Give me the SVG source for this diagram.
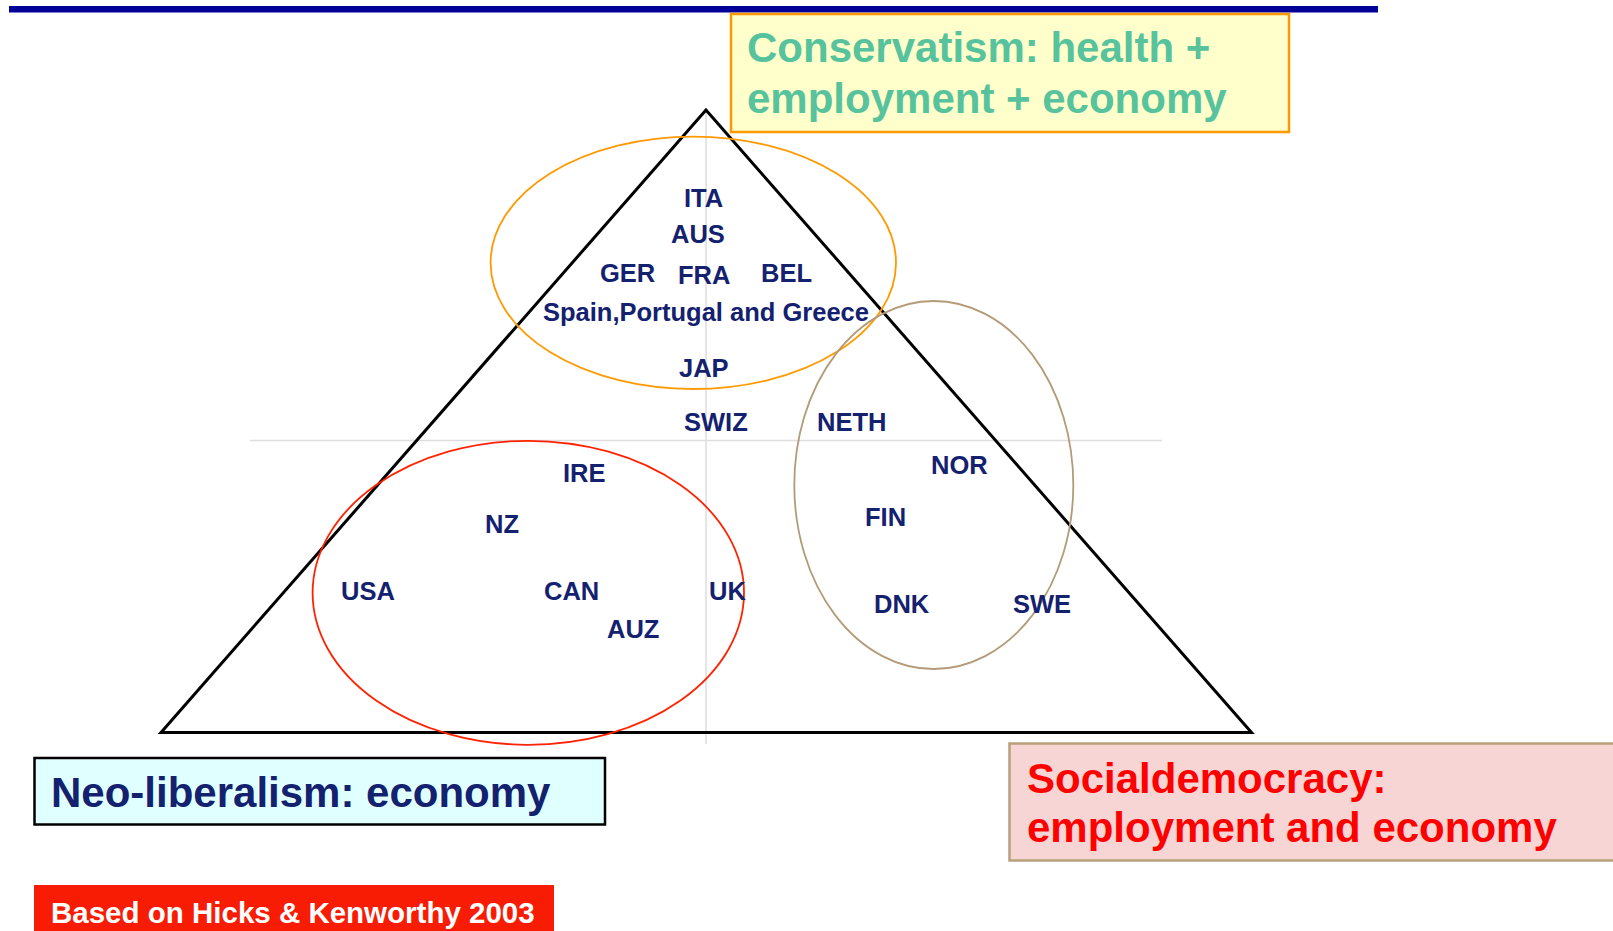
<svg xmlns="http://www.w3.org/2000/svg" width="1613" height="931" viewBox="0 0 1613 931">
<style>
.lbl{font-family:"Liberation Sans",Arial,sans-serif;font-weight:bold;font-size:25.5px;fill:#13216F}
.big{font-family:"Liberation Sans",Arial,sans-serif;font-weight:bold;font-size:42px}
.guide{stroke:#DDDDDD;stroke-width:1.5;fill:none}
</style>
<rect x="0" y="0" width="1613" height="931" fill="#FFFFFF"/>
<rect id="topbar" x="9" y="6" width="1369" height="6.5" fill="#000099"/>
<g id="guides">
<line class="guide" x1="250" y1="440.5" x2="1162" y2="440.5"/>
<line class="guide" x1="706" y1="110" x2="706" y2="744"/>
</g>
<g id="triangle">
<polygon points="706,110 161,732.5 1251.5,732.5" fill="none" stroke="#000000" stroke-width="3" stroke-linejoin="miter"/>
</g>
<g id="clusters">
<ellipse id="cons-ellipse" cx="693.3" cy="262.8" rx="202.7" ry="126.2" fill="none" stroke="#FF9900" stroke-width="1.8"/>
<ellipse id="neo-ellipse" cx="528.3" cy="592.8" rx="215.7" ry="152" fill="none" stroke="#FF2200" stroke-width="1.8"/>
<ellipse id="soc-ellipse" cx="933.8" cy="485" rx="139.5" ry="184" fill="none" stroke="#B39B77" stroke-width="1.8"/>
</g>
<g id="countries">
<text class="lbl" x="684" y="207">ITA</text>
<text class="lbl" x="671" y="243">AUS</text>
<text class="lbl" x="600" y="282">GER</text>
<text class="lbl" x="678" y="284">FRA</text>
<text class="lbl" x="761" y="282">BEL</text>
<text class="lbl" x="543" y="321">Spain,Portugal and Greece</text>
<text class="lbl" x="679" y="377">JAP</text>
<text class="lbl" x="684" y="431">SWIZ</text>
<text class="lbl" x="817" y="431">NETH</text>
<text class="lbl" x="931" y="474">NOR</text>
<text class="lbl" x="865" y="526">FIN</text>
<text class="lbl" x="874" y="613">DNK</text>
<text class="lbl" x="1013" y="613">SWE</text>
<text class="lbl" x="563" y="482">IRE</text>
<text class="lbl" x="485" y="533">NZ</text>
<text class="lbl" x="341" y="600">USA</text>
<text class="lbl" x="544" y="600">CAN</text>
<text class="lbl" x="709" y="600">UK</text>
<text class="lbl" x="607" y="638">AUZ</text>
</g>
<g id="conservatism">
<rect x="731" y="14" width="558" height="118" fill="#FFFFCC" stroke="#FF9900" stroke-width="2.5"/>
<text class="big" x="747" y="62" fill="#57C39D">Conservatism: health +</text>
<text class="big" x="747" y="113" fill="#57C39D">employment + economy</text>
</g>
<g id="neoliberalism">
<rect x="34.5" y="758" width="570.5" height="66.5" fill="#E0FFFF" stroke="#000000" stroke-width="2.5"/>
<text class="big" x="51" y="807" fill="#13216F">Neo-liberalism: economy</text>
</g>
<g id="socialdemocracy">
<rect x="1009.5" y="743.5" width="620" height="117" fill="#F8D5D5" stroke="#B8A07A" stroke-width="2.5"/>
<text class="big" x="1027" y="793" fill="#FF0000">Socialdemocracy:</text>
<text class="big" x="1027" y="842" fill="#FF0000">employment and economy</text>
</g>
<g id="source">
<rect x="34" y="885" width="520" height="50" fill="#F91C05"/>
<text x="51" y="923" font-family="&quot;Liberation Sans&quot;, Arial, sans-serif" font-weight="bold" font-size="29.5" fill="#FFFFFF">Based on Hicks &amp; Kenworthy 2003</text>
</g>
</svg>
